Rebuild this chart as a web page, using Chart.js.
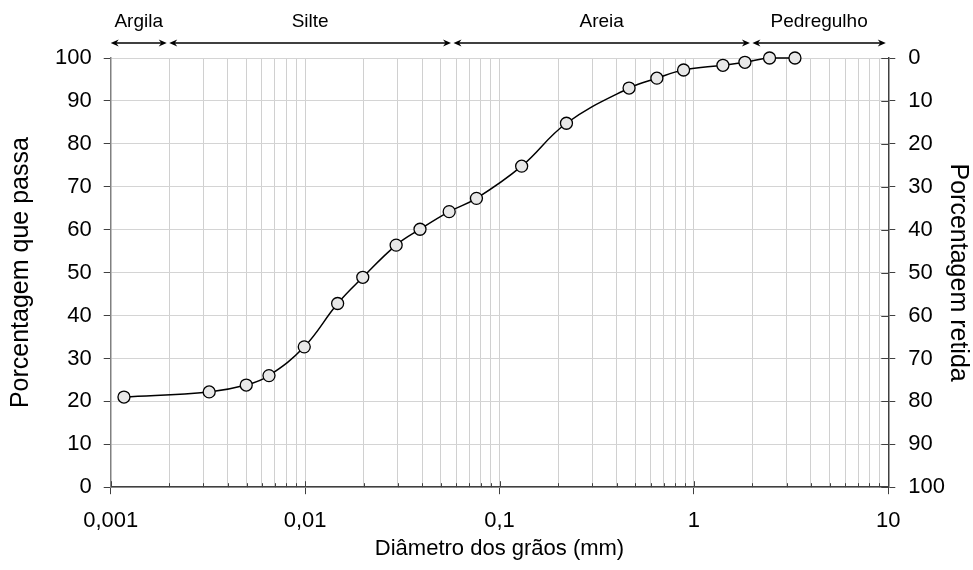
<!DOCTYPE html>
<html>
<head>
<meta charset="utf-8">
<script src="https://cdn.jsdelivr.net/npm/chart.js@4/dist/chart.umd.min.js"></script>
<style>
  html, body { margin: 0; padding: 0; background: #fff; }
  #wrap { width: 973px; height: 570px; }
</style>
</head>
<body>
<div id="wrap"><canvas id="c" width="973" height="570"></canvas></div>
<script>
// grain diameters (mm) and percent passing
const diameters = [0.00117, 0.00321, 0.00498, 0.00652, 0.0099, 0.0147, 0.0198, 0.0294,
                   0.039, 0.0551, 0.0761, 0.13, 0.221, 0.464, 0.645, 0.885, 1.41, 1.83, 2.45, 3.31];
const passing = [21.0, 22.2, 23.8, 26.0, 32.7, 42.8, 48.9, 56.4,
                 60.1, 64.2, 67.3, 74.8, 84.8, 93.0, 95.3, 97.2, 98.3, 99.0, 100, 100];

// soil fraction limits (mm) and names
const zoneLimits = [0.001, 0.002, 0.058, 2, 10];
const zoneNames = ['Argila', 'Silte', 'Areia', 'Pedregulho'];

const decades = [0.001, 0.01, 0.1, 1, 10];
const yTicks = [0, 10, 20, 30, 40, 50, 60, 70, 80, 90, 100];

const FONT = "'Liberation Sans', Arial, sans-serif";

function isDecade(v) {
    return decades.some(d => Math.abs(v / d - 1) < 1e-6);
}

// all 1..9 marks per decade for the log grid
const logMarks = [];
decades.forEach((d, i) => {
    if (i === decades.length - 1) { logMarks.push(d); return; }
    for (let k = 1; k <= 9; k++) logMarks.push(+(d * k).toPrecision(3));
});

// Zone arrows + names above the plot
const zonePlugin = {
    id: 'zones',
    afterDraw(chart) {
        const { ctx, chartArea } = chart;
        const x = chart.scales.x;
        const yArrow = chartArea.top - 15;
        ctx.save();
        ctx.strokeStyle = '#000';
        ctx.fillStyle = '#000';
        ctx.lineWidth = 1.6;
        ctx.font = '19px ' + FONT;
        ctx.textAlign = 'center';
        ctx.textBaseline = 'alphabetic';
        for (let i = 0; i < zoneNames.length; i++) {
            const a = x.getPixelForValue(zoneLimits[i]);
            const b = x.getPixelForValue(zoneLimits[i + 1]) - 2.5;
            ctx.beginPath();
            ctx.moveTo(a + 3, yArrow);
            ctx.lineTo(b - 3, yArrow);
            ctx.stroke();
            // arrow heads
            [[a, 1], [b, -1]].forEach(([px, dir]) => {
                ctx.beginPath();
                ctx.moveTo(px, yArrow);
                ctx.lineTo(px + dir * 8, yArrow - 3.5);
                ctx.lineTo(px + dir * 5.5, yArrow);
                ctx.lineTo(px + dir * 8, yArrow + 3.5);
                ctx.closePath();
                ctx.fill();
            });
            ctx.fillText(zoneNames[i], (a + b) / 2, chartArea.top - 31);
        }
        ctx.restore();
    }
};

// Inner tick marks (bottom axis, right axis inner half)
const innerTicks = {
    id: 'innerTicks',
    afterDatasetsDraw(chart) {
        const { ctx, chartArea } = chart;
        const x = chart.scales.x;
        const y2 = chart.scales.y2;
        ctx.save();
        ctx.strokeStyle = '#404040';
        ctx.lineWidth = 1;
        x.ticks.forEach(t => {
            const px = Math.round(x.getPixelForValue(t.value)) + 0.5;
            ctx.beginPath();
            ctx.moveTo(px, chartArea.bottom);
            ctx.lineTo(px, chartArea.bottom - (isDecade(t.value) ? 6 : 4));
            ctx.stroke();
        });
        y2.ticks.forEach(t => {
            const py = Math.round(y2.getPixelForValue(t.value)) + 0.5;
            ctx.beginPath();
            ctx.moveTo(chartArea.right, py);
            ctx.lineTo(chartArea.right - 7, py);
            ctx.stroke();
        });
        ctx.restore();
    }
};

new Chart(document.getElementById('c'), {
    type: 'line',
    data: {
        datasets: [{
            data: diameters.map((d, i) => ({ x: d, y: passing[i] })),
            borderColor: '#000',
            borderWidth: 1.5,
            tension: 0.4,
            pointRadius: 6,
            pointBackgroundColor: '#e8e8e8',
            pointBorderColor: '#000',
            pointBorderWidth: 1.3,
            clip: false
        }]
    },
    options: {
        responsive: false,
        animation: false,
        layout: { padding: { top: 58, right: 2, bottom: 4, left: 9 } },
        plugins: {
            legend: { display: false },
            tooltip: { enabled: false }
        },
        scales: {
            x: {
                type: 'logarithmic',
                min: 0.001,
                max: 10,
                afterBuildTicks(scale) {
                    scale.ticks = logMarks.map(v => ({ value: v, major: isDecade(v) }));
                },
                afterFit(scale) { scale.height -= 15; },
                ticks: {
                    autoSkip: false,
                    maxRotation: 0,
                    color: '#000',
                    font: { family: FONT, size: 22 },
                    padding: 14,
                    callback: v => isDecade(v) ? String(v).replace('.', ',') : ''
                },
                grid: {
                    color: '#d0d0d0',
                    tickLength: 7,
                    tickColor: ctx => (ctx.tick && isDecade(ctx.tick.value)) ? '#404040' : 'rgba(0,0,0,0)'
                },
                border: { color: '#404040', width: 1.5 },
                title: {
                    display: true,
                    text: 'Diâmetro dos grãos (mm)',
                    color: '#000',
                    font: { family: FONT, size: 22 },
                    padding: { top: 2, bottom: 4 }
                }
            },
            y: {
                position: 'left',
                min: 0,
                max: 100,
                afterBuildTicks(scale) {
                    scale.ticks = yTicks.map(v => ({ value: v }));
                },
                afterFit(scale) { scale.width -= 12; },
                ticks: {
                    color: '#000',
                    font: { family: FONT, size: 22 },
                    padding: 12
                },
                grid: {
                    color: '#d4d4d4',
                    tickLength: 7,
                    tickColor: '#404040'
                },
                border: { color: '#808080', width: 1.5 },
                title: {
                    display: true,
                    text: 'Porcentagem que passa',
                    color: '#000',
                    font: { family: FONT, size: 25, lineHeight: 1 },
                    padding: { top: 0, bottom: 21 }
                }
            },
            y2: {
                position: 'right',
                reverse: true,
                min: 0,
                max: 100,
                afterBuildTicks(scale) {
                    scale.ticks = yTicks.map(v => ({ value: v }));
                },
                afterFit(scale) { scale.width -= 13; },
                ticks: {
                    color: '#000',
                    font: { family: FONT, size: 22 },
                    padding: 13
                },
                grid: {
                    drawOnChartArea: false,
                    tickLength: 7,
                    tickColor: '#404040'
                },
                border: { color: '#404040', width: 1.5 },
                title: {
                    display: true,
                    text: 'Porcentagem retida',
                    color: '#000',
                    font: { family: FONT, size: 25, lineHeight: 1 },
                    padding: { top: 1, bottom: 0 }
                }
            }
        }
    },
    plugins: [zonePlugin, innerTicks]
});
</script>
</body>
</html>
